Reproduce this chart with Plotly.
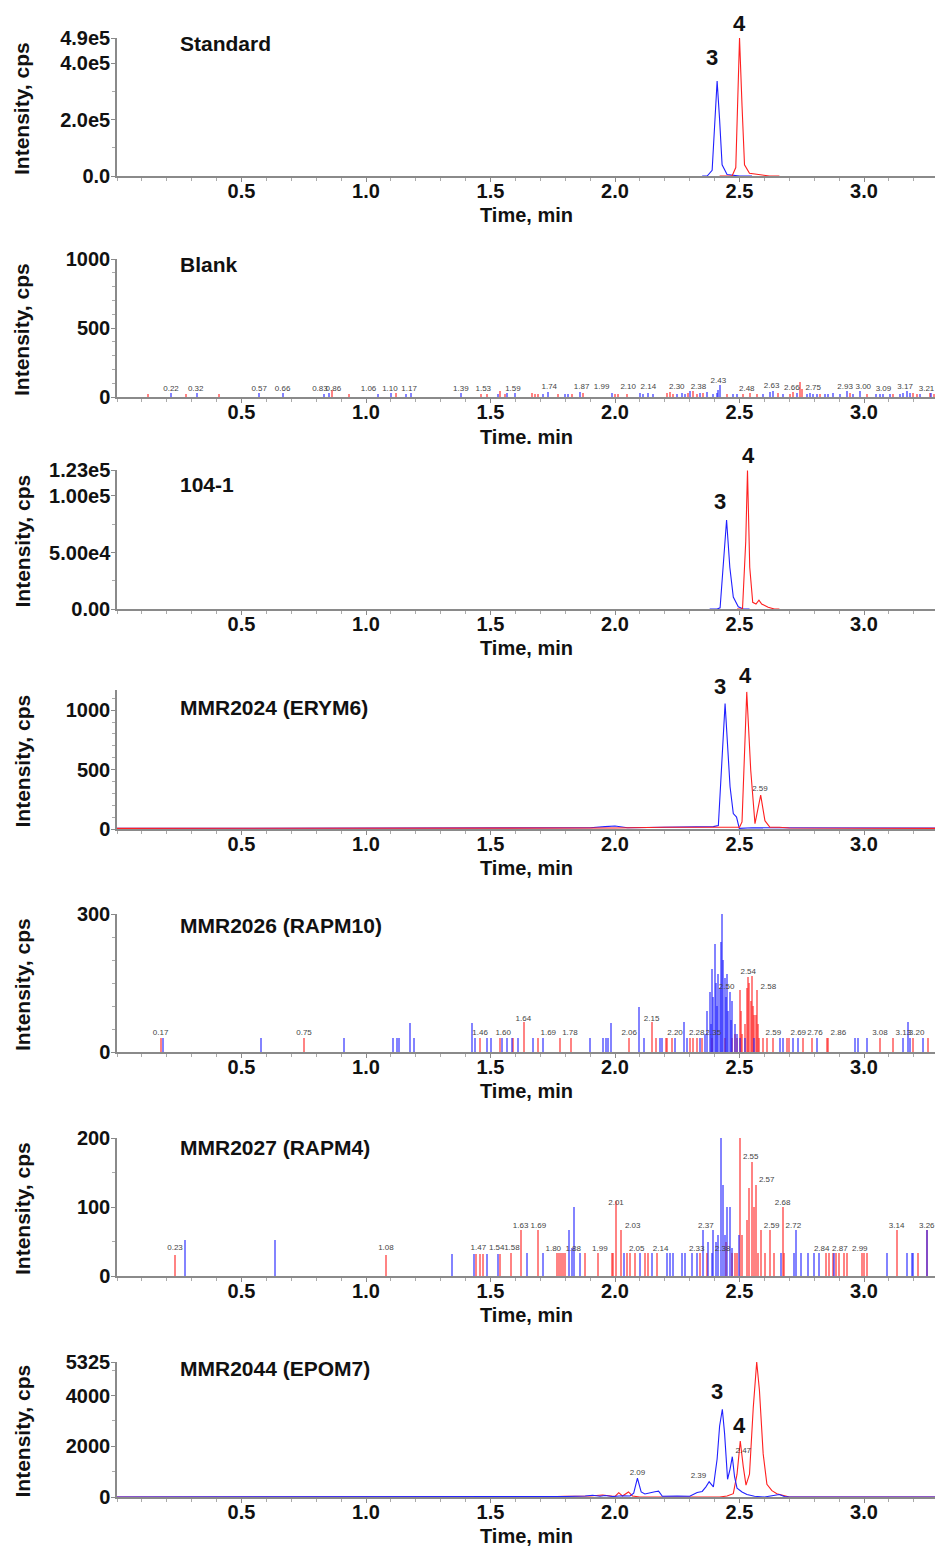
import plotly.graph_objects as go

# ---------------- data ----------------
panel_names = ["Standard", "Blank", "104-1", "MMR2024 (ERYM6)",
               "MMR2026 (RAPM10)", "MMR2027 (RAPM4)", "MMR2044 (EPOM7)"]
x_titles = ["Time, min", "Time. min", "Time, min", "Time, min",
            "Time, min", "Time, min", "Time, min"]
y_title = "Intensity, cps"
x_tick_vals = [0.5, 1.0, 1.5, 2.0, 2.5, 3.0]
x_tick_text = ["0.5", "1.0", "1.5", "2.0", "2.5", "3.0"]
x_max = 3.285

y_max = [4.9e5, 1000, 1.23e5, 1170, 300, 200, 5325]
y_tick_vals = [[0, 2e5, 4e5, 4.9e5], [0, 500, 1000], [0, 5e4, 1e5, 1.23e5],
               [0, 500, 1000], [0, 300], [0, 100, 200], [0, 2000, 4000, 5325]]
y_tick_text = [["0.0", "2.0e5", "4.0e5", "4.9e5"], ["0", "500", "1000"],
               ["0.00", "5.00e4", "1.00e5", "1.23e5"], ["0", "500", "1000"],
               ["0", "300"], ["0", "100", "200"], ["0", "2000", "4000", "5325"]]
y_minor_vals = [[1e5, 3e5],
                [100, 200, 300, 400, 600, 700, 800, 900],
                [2.5e4, 7.5e4],
                [100, 200, 300, 400, 600, 700, 800, 900, 1100],
                [50, 100, 150, 200, 250],
                [50, 150],
                [1000, 3000, 5000]]

# Panel 1: Standard (continuous traces)
std_blue_t = [2.35, 2.37, 2.39, 2.40, 2.41, 2.42, 2.43, 2.45, 2.50, 2.55]
std_blue_i = [0, 0, 20000, 180000, 337000, 200000, 40000, 5000, 0, 0]
std_red_t = [2.42, 2.47, 2.485, 2.495, 2.50, 2.51, 2.52, 2.54, 2.58, 2.62, 2.66]
std_red_i = [0, 0, 30000, 300000, 490000, 250000, 40000, 10000, 5000, 0, 0]

# Panel 2: Blank (centroid spikes)
blank_blue_t = [0.217, 0.32, 0.57, 0.666, 0.83, 0.85, 1.05, 1.10, 1.16, 1.18, 1.38, 1.53,
                1.565, 1.60, 1.712, 1.732, 1.80, 1.812, 1.859, 1.987, 2.10, 2.114, 2.134,
                2.154, 2.248, 2.268, 2.281, 2.301, 2.341, 2.368, 2.395, 2.408, 2.415, 2.422,
                2.475, 2.489, 2.596, 2.622, 2.636, 2.676, 2.73, 2.77, 2.783, 2.796, 2.81,
                2.843, 2.857, 2.877, 2.904, 2.93, 2.957, 2.984, 3.05, 3.064, 3.078, 3.104,
                3.145, 3.158, 3.171, 3.185, 3.225, 3.27]
blank_blue_h = [30, 30, 30, 30, 25, 30, 25, 30, 25, 30, 30, 25,
                30, 30, 25, 35, 20, 25, 35, 30, 30, 25, 30,
                25, 25, 30, 20, 40, 30, 35, 25, 30, 50, 85,
                20, 25, 25, 35, 45, 25, 30, 20, 30, 25, 20,
                25, 20, 30, 25, 40, 25, 40, 25, 20, 25, 20,
                25, 30, 45, 30, 25, 30]
blank_red_t = [0.123, 0.276, 0.41, 0.865, 0.93, 1.12, 1.46, 1.485, 1.54, 1.558, 1.665, 1.679,
               1.692, 1.772, 1.826, 1.873, 2.0, 2.013, 2.047, 2.208, 2.221, 2.234, 2.294,
               2.314, 2.328, 2.355, 2.448, 2.515, 2.542, 2.569, 2.656, 2.703, 2.716, 2.743,
               2.75, 2.823, 2.944, 3.011, 3.118, 3.198, 3.212, 3.265, 3.279]
blank_red_h = [25, 25, 25, 50, 25, 30, 25, 25, 45, 25, 30, 25,
               20, 25, 20, 30, 25, 20, 25, 30, 35, 25, 30,
               40, 25, 30, 25, 25, 30, 25, 30, 25, 35, 110,
               60, 25, 30, 25, 25, 30, 25, 30, 25]
blank_lbl_x = [0.217, 0.316, 0.571, 0.665, 0.815, 0.869, 1.01, 1.096, 1.173, 1.381, 1.471,
               1.59, 1.736, 1.866, 1.946, 2.053, 2.134, 2.248, 2.335, 2.415, 2.529, 2.629,
               2.71, 2.796, 2.924, 2.997, 3.078, 3.165, 3.251]
blank_lbl_y = [32, 32, 32, 32, 32, 32, 32, 32, 32, 32, 32,
               32, 40, 40, 40, 40, 40, 40, 40, 90, 30, 48,
               35, 35, 40, 40, 30, 45, 30]
blank_lbl_text = ["0.22", "0.32", "0.57", "0.66", "0.83", "0.86", "1.06", "1.10", "1.17",
                  "1.39", "1.53", "1.59", "1.74", "1.87", "1.99", "2.10", "2.14", "2.30",
                  "2.38", "2.43", "2.48", "2.63", "2.66", "2.75", "2.93", "3.00", "3.09",
                  "3.17", "3.21"]

# Panel 3: 104-1
s104_blue_t = [2.38, 2.41, 2.422, 2.435, 2.448, 2.461, 2.475, 2.495, 2.515, 2.54]
s104_blue_i = [0, 0, 1000, 37000, 78800, 37000, 10600, 2000, 0, 0]
s104_red_t = [2.49, 2.512, 2.525, 2.532, 2.541, 2.553, 2.566, 2.578, 2.589, 2.615, 2.64, 2.66]
s104_red_i = [0, 0, 60000, 122500, 37000, 5900, 4400, 7900, 4400, 1500, 0, 0]

# Panel 4: MMR2024 (ERYM6)
m24_blue_t = [0.0, 0.3, 0.6, 1.0, 1.4, 1.9, 1.96, 2.0, 2.05, 2.2, 2.35, 2.395, 2.415,
              2.43, 2.442, 2.462, 2.475, 2.488, 2.499, 2.55, 2.7, 3.0, 3.29]
m24_blue_i = [5, 5, 8, 5, 8, 10, 20, 25, 10, 15, 20, 20, 30,
              600, 1056, 355, 130, 100, 5, 10, 10, 10, 8]
m24_red_t = [0.0, 1.0, 2.0, 2.2, 2.45, 2.50, 2.51, 2.52, 2.529, 2.545, 2.562, 2.585,
             2.602, 2.622, 2.66, 2.7, 3.29]
m24_red_i = [5, 5, 8, 15, 10, 15, 60, 700, 1154, 495, 45, 285,
             70, 15, 15, 8, 5]

# Panel 5: MMR2026 (RAPM10) spikes
m26_blue_t = [0.186, 0.58, 0.91, 1.107, 1.123, 1.132, 1.176, 1.193, 1.427, 1.437, 1.484, 1.502,
              1.545, 1.565, 1.585, 1.612, 1.669, 1.712, 1.90, 1.953, 1.964, 1.973, 1.983,
              2.098, 2.116, 2.18, 2.19, 2.241, 2.275, 2.288, 2.341, 2.36, 2.37, 2.38, 2.385,
              2.39, 2.395, 2.40, 2.405, 2.41, 2.415, 2.42, 2.425, 2.43, 2.435, 2.44, 2.445,
              2.45, 2.455, 2.46, 2.465, 2.47, 2.48, 2.49, 2.50, 2.52, 2.56, 2.662, 2.676,
              2.716, 2.736, 2.81, 2.964, 2.977, 3.01, 3.158, 3.178, 3.185, 3.238]
m26_blue_h = [30, 30, 30, 30, 30, 30, 64, 30, 64, 30, 30, 30,
              30, 30, 30, 30, 30, 30, 30, 30, 30, 30, 64,
              98, 30, 30, 30, 30, 66, 30, 30, 40, 90, 130, 60,
              180, 120, 235, 150, 100, 170, 140, 240, 300, 200, 160, 120,
              170, 90, 130, 70, 110, 60, 40, 30, 30, 30, 30, 30,
              30, 30, 30, 30, 30, 30, 30, 66, 30, 30]
m26_red_t = [0.175, 0.75, 1.458, 1.538, 1.592, 1.634, 1.692, 1.779, 1.822, 2.057, 2.147, 2.165,
             2.204, 2.21, 2.228, 2.301, 2.314, 2.328, 2.35, 2.39, 2.44, 2.47, 2.48, 2.49,
             2.50, 2.505, 2.51, 2.52, 2.53, 2.535, 2.54, 2.545, 2.55, 2.555, 2.56, 2.565,
             2.57, 2.575, 2.58, 2.596, 2.61, 2.636, 2.692, 2.70, 2.756, 2.79, 2.85, 2.857,
             3.064, 3.118, 3.198, 3.258]
m26_red_h = [30, 30, 30, 30, 30, 66, 30, 30, 30, 30, 66, 30,
             30, 30, 30, 30, 30, 30, 30, 30, 30, 30, 40, 30,
             135, 90, 40, 60, 140, 164, 150, 110, 165, 100, 80, 80,
             135, 60, 30, 30, 30, 30, 30, 30, 30, 30, 30, 30,
             30, 30, 30, 30]
m26_lbl_x = [0.175, 0.751, 1.458, 1.551, 1.632, 1.732, 1.819, 2.057, 2.147, 2.241, 2.328,
             2.395, 2.448, 2.535, 2.616, 2.636, 2.736, 2.803, 2.897, 3.064, 3.158, 3.211]
m26_lbl_y = [33, 33, 33, 33, 64, 33, 33, 33, 64, 33, 33,
             33, 133, 166, 133, 33, 33, 33, 33, 33, 33, 33]
m26_lbl_text = ["0.17", "0.75", "1.46", "1.60", "1.64", "1.69", "1.78", "2.06", "2.15", "2.20",
                "2.28", "2.35", "2.50", "2.54", "2.58", "2.59", "2.69", "2.76", "2.86", "3.08",
                "3.13", "3.20"]

# Panel 6: MMR2027 (RAPM4) spikes
m27_blue_t = [0.273, 0.634, 1.347, 1.434, 1.484, 1.53, 1.648, 1.712, 1.816, 1.826, 1.835, 1.859,
              2.036, 2.10, 2.147, 2.207, 2.22, 2.234, 2.268, 2.281, 2.308, 2.328, 2.352, 2.375,
              2.388, 2.395, 2.406, 2.415, 2.424, 2.432, 2.442, 2.451, 2.462, 2.47, 2.499, 2.665,
              2.719, 2.726, 2.746, 2.773, 2.80, 2.82, 2.88, 3.094, 3.174, 3.191, 3.198, 3.254]
m27_blue_h = [52, 52, 32, 32, 32, 32, 33, 33, 67, 40, 100, 33,
              33, 33, 33, 33, 33, 33, 33, 33, 33, 33, 67, 50,
              33, 67, 50, 60, 200, 132, 60, 100, 100, 40, 60, 33,
              33, 67, 33, 33, 33, 33, 33, 33, 33, 33, 33, 67]
m27_red_t = [0.233, 1.08, 1.44, 1.458, 1.471, 1.538, 1.581, 1.621, 1.692, 1.768, 1.775, 1.782,
             1.79, 1.80, 1.879, 1.933, 1.987, 1.993, 2.004, 2.023, 2.047, 2.06, 2.08, 2.12,
             2.134, 2.167, 2.341, 2.368, 2.445, 2.468, 2.482, 2.491, 2.50, 2.509, 2.529, 2.54,
             2.549, 2.558, 2.566, 2.575, 2.585, 2.602, 2.622, 2.64, 2.673, 2.68, 2.847, 2.86,
             2.875, 2.888, 2.90, 2.92, 2.93, 2.99, 3.0, 3.01, 3.131, 3.218, 3.254]
m27_red_h = [30, 31, 32, 32, 32, 32, 33, 67, 67, 33, 33, 33,
             33, 33, 33, 33, 33, 33, 108, 67, 33, 33, 33, 33,
             33, 33, 33, 33, 50, 33, 33, 33, 200, 60, 81, 127,
             165, 100, 132, 33, 67, 33, 67, 33, 100, 33, 33, 33,
             33, 33, 33, 33, 33, 33, 33, 33, 67, 33, 67]
m27_lbl_x = [0.233, 1.08, 1.451, 1.525, 1.586, 1.621, 1.692, 1.752, 1.832, 1.939, 2.004, 2.071,
             2.087, 2.183, 2.328, 2.365, 2.432, 2.502, 2.545, 2.609, 2.629, 2.673, 2.716,
             2.83, 2.903, 2.983, 3.131, 3.252]
m27_lbl_y = [35, 35, 35, 35, 35, 67, 67, 34, 34, 34, 100, 67,
             34, 34, 34, 67, 34, 201, 167, 134, 67, 100, 67,
             34, 34, 34, 67, 67]
m27_lbl_text = ["0.23", "1.08", "1.47", "1.54", "1.58", "1.63", "1.69", "1.80", "1.88", "1.99",
                "2.01", "2.03", "2.05", "2.14", "2.33", "2.37", "2.38", "2.51", "2.55", "2.57",
                "2.59", "2.68", "2.72", "2.84", "2.87", "2.99", "3.14", "3.26"]

# Panel 7: MMR2044 (EPOM7)
m44_blue_t = [0.0, 1.70, 1.80, 1.88, 1.91, 1.94, 1.96, 1.99, 2.03, 2.06, 2.075, 2.09, 2.105,
              2.12, 2.14, 2.16, 2.175, 2.19, 2.25, 2.30, 2.33, 2.35, 2.365, 2.378, 2.395,
              2.41, 2.42, 2.431, 2.44, 2.452, 2.462, 2.471, 2.48, 2.49, 2.51, 2.53, 2.56,
              2.60, 2.66, 2.68, 2.70, 3.29]
m44_blue_i = [0, 0, 20, 40, 70, 30, 60, 20, 50, 40, 150, 740, 200,
              120, 180, 210, 230, 30, 40, 30, 180, 220, 400, 600, 400,
              1500, 2800, 3460, 2500, 700, 1100, 1590, 800, 350, 200, 100, 30,
              0, 100, 20, 0, 0]
m44_red_t = [0.0, 1.70, 1.80, 1.90, 1.95, 2.00, 2.015, 2.03, 2.054, 2.07, 2.10, 2.30, 2.42,
             2.45, 2.475, 2.49, 2.503, 2.515, 2.526, 2.54, 2.555, 2.569, 2.58, 2.595, 2.61,
             2.63, 2.65, 2.70, 3.29]
m44_red_i = [0, 0, 30, 40, 80, 20, 170, 40, 200, 40, 0, 0, 0,
             40, 130, 900, 2210, 1200, 470, 900, 3500, 5325, 4200, 1700, 500,
             250, 130, 0, 0]

# peak number labels
peak_lbl_panel = [0, 0, 2, 2, 3, 3, 6, 6]
peak_lbl_t = [2.39, 2.50, 2.422, 2.535, 2.422, 2.522, 2.41, 2.50]
peak_lbl_i = [3.7e5, 4.9e5, 8.2e4, 1.23e5, 1080, 1170, 3600, 2250]
peak_lbl_text = ["3", "4", "3", "4", "3", "4", "3", "4"]

# small retention-time labels on continuous panels
rt_lbl_panel = [3, 6, 6, 6]
rt_lbl_t = [2.582, 2.09, 2.335, 2.515]
rt_lbl_i = [300, 780, 680, 1640]
rt_lbl_text = ["2.59", "2.09", "2.39", "2.47"]

# ---------------- layout geometry (pixels) ----------------
W, H = 940, 1549
X_LEFT, X_RIGHT = 117, 935
plot_top_px = [38, 259, 470, 690, 914, 1138, 1362]
plot_bot_px = [176, 397, 609, 829, 1052, 1276, 1497]
name_y_px = [43, 264, 485, 707, 925, 1147, 1368]
xtitle_y_px = [215, 437, 648, 868, 1091, 1315, 1536]

BLUE_LINE = "#2020ff"
RED_LINE = "#ff2020"
BLUE_SPIKE = "rgba(30,30,255,0.55)"
RED_SPIKE = "rgba(255,30,30,0.55)"
FONT = "Liberation Sans, Arial, sans-serif"


def py(p):
    return 1 - p / H


def px(p):
    return p / W


fig = go.Figure()


def axn(i):
    return "" if i == 0 else str(i + 1)


def add_line(i, t, v, color):
    fig.add_trace(go.Scatter(x=t, y=v, mode="lines", line=dict(color=color, width=1.1),
                             xaxis="x" + axn(i), yaxis="y" + axn(i), showlegend=False,
                             hoverinfo="skip"))


def add_spikes(i, t, h, color):
    fig.add_trace(go.Bar(x=t, y=h, width=0.008, marker=dict(color=color, line=dict(width=0)),
                         xaxis="x" + axn(i), yaxis="y" + axn(i), showlegend=False,
                         hoverinfo="skip"))


def add_rt_labels(i, xs, ys, texts):
    fig.add_trace(go.Scatter(x=xs, y=ys, mode="text", text=texts, textposition="top center",
                             textfont=dict(size=8, color="#444", family=FONT),
                             cliponaxis=False, xaxis="x" + axn(i), yaxis="y" + axn(i),
                             showlegend=False, hoverinfo="skip"))


add_line(0, std_blue_t, std_blue_i, BLUE_LINE)
add_line(0, std_red_t, std_red_i, RED_LINE)

add_spikes(1, blank_red_t, blank_red_h, RED_SPIKE)
add_spikes(1, blank_blue_t, blank_blue_h, BLUE_SPIKE)
add_rt_labels(1, blank_lbl_x, blank_lbl_y, blank_lbl_text)

add_line(2, s104_blue_t, s104_blue_i, BLUE_LINE)
add_line(2, s104_red_t, s104_red_i, RED_LINE)

add_line(3, m24_blue_t, m24_blue_i, BLUE_LINE)
add_line(3, m24_red_t, m24_red_i, RED_LINE)

add_spikes(4, m26_red_t, m26_red_h, RED_SPIKE)
add_spikes(4, m26_blue_t, m26_blue_h, BLUE_SPIKE)
add_rt_labels(4, m26_lbl_x, m26_lbl_y, m26_lbl_text)

add_spikes(5, m27_red_t, m27_red_h, RED_SPIKE)
add_spikes(5, m27_blue_t, m27_blue_h, BLUE_SPIKE)
add_rt_labels(5, m27_lbl_x, m27_lbl_y, m27_lbl_text)

add_line(6, m44_red_t, m44_red_i, RED_LINE)
add_line(6, m44_blue_t, m44_blue_i, BLUE_LINE)

for k in range(len(rt_lbl_panel)):
    add_rt_labels(rt_lbl_panel[k], [rt_lbl_t[k]], [rt_lbl_i[k]], [rt_lbl_text[k]])

# small start-of-trace triangles
for i in range(7):
    fig.add_trace(go.Scatter(x=[-0.006], y=[0], mode="markers",
                             marker=dict(symbol="triangle-right", size=7, color="#1f2f9a"),
                             cliponaxis=False, xaxis="x" + axn(i), yaxis="y" + axn(i),
                             showlegend=False, hoverinfo="skip"))

layout = dict(width=W, height=H, margin=dict(l=0, r=0, t=0, b=0, autoexpand=False),
              paper_bgcolor="white", plot_bgcolor="white", barmode="overlay",
              bargap=0, font=dict(family=FONT, color="#111"))
annotations = []
tickfont = dict(family=FONT, size=20, color="#111", weight="bold")
for i in range(7):
    xa = dict(domain=[px(X_LEFT), px(X_RIGHT)], range=[0, x_max], anchor="y" + axn(i),
              tickvals=x_tick_vals, ticktext=x_tick_text, tickfont=tickfont,
              showline=True, linecolor="#8a8a8a", linewidth=1.5, ticks="outside",
              ticklen=4, tickcolor="#8a8a8a", showgrid=False, zeroline=False,
              ticklabelstandoff=-8, automargin=False,
              minor=dict(dtick=0.1, tick0=0, ticks="outside", ticklen=3, tickcolor="#aaa"),
              fixedrange=True)
    ya = dict(domain=[py(plot_bot_px[i]), py(plot_top_px[i])], range=[0, y_max[i]],
              anchor="x" + axn(i), tickvals=y_tick_vals[i], ticktext=y_tick_text[i],
              tickfont=tickfont, showline=True, linecolor="#8a8a8a", linewidth=1.5,
              ticks="outside", ticklen=4, tickcolor="#8a8a8a", showgrid=False,
              zeroline=False, ticklabelstandoff=-3, automargin=False,
              minor=dict(tickmode="array", tickvals=y_minor_vals[i], ticks="outside",
                         ticklen=3, tickcolor="#aaa"),
              fixedrange=True)
    layout["xaxis" + axn(i)] = xa
    layout["yaxis" + axn(i)] = ya
    annotations.append(dict(text=panel_names[i], xref="paper", yref="paper",
                            x=px(178), y=py(name_y_px[i]), xanchor="left", yanchor="middle",
                            showarrow=False,
                            font=dict(family=FONT, size=21, color="#111", weight="bold")))
    annotations.append(dict(text=x_titles[i], xref="paper", yref="paper",
                            x=px((X_LEFT + X_RIGHT) / 2), y=py(xtitle_y_px[i]),
                            xanchor="center", yanchor="middle", showarrow=False,
                            font=dict(family=FONT, size=20, color="#111", weight="bold")))
    annotations.append(dict(text=y_title, xref="paper", yref="paper", textangle=-90,
                            x=px(22), y=py((plot_top_px[i] + plot_bot_px[i]) / 2 + 2),
                            xanchor="center", yanchor="middle", showarrow=False,
                            font=dict(family=FONT, size=21, color="#111", weight="bold")))

for k in range(len(peak_lbl_panel)):
    i = peak_lbl_panel[k]
    annotations.append(dict(text=peak_lbl_text[k], x=peak_lbl_t[k], y=peak_lbl_i[k],
                            xref="x" + axn(i), yref="y" + axn(i), xanchor="center",
                            yanchor="bottom", showarrow=False,
                            font=dict(family=FONT, size=22, color="#111", weight="bold")))

layout["annotations"] = annotations
fig.update_layout(**layout)
fig.write_html("out.html", config={"displayModeBar": False},
               post_script="document.body.style.margin='0';document.body.style.overflow='hidden';")
